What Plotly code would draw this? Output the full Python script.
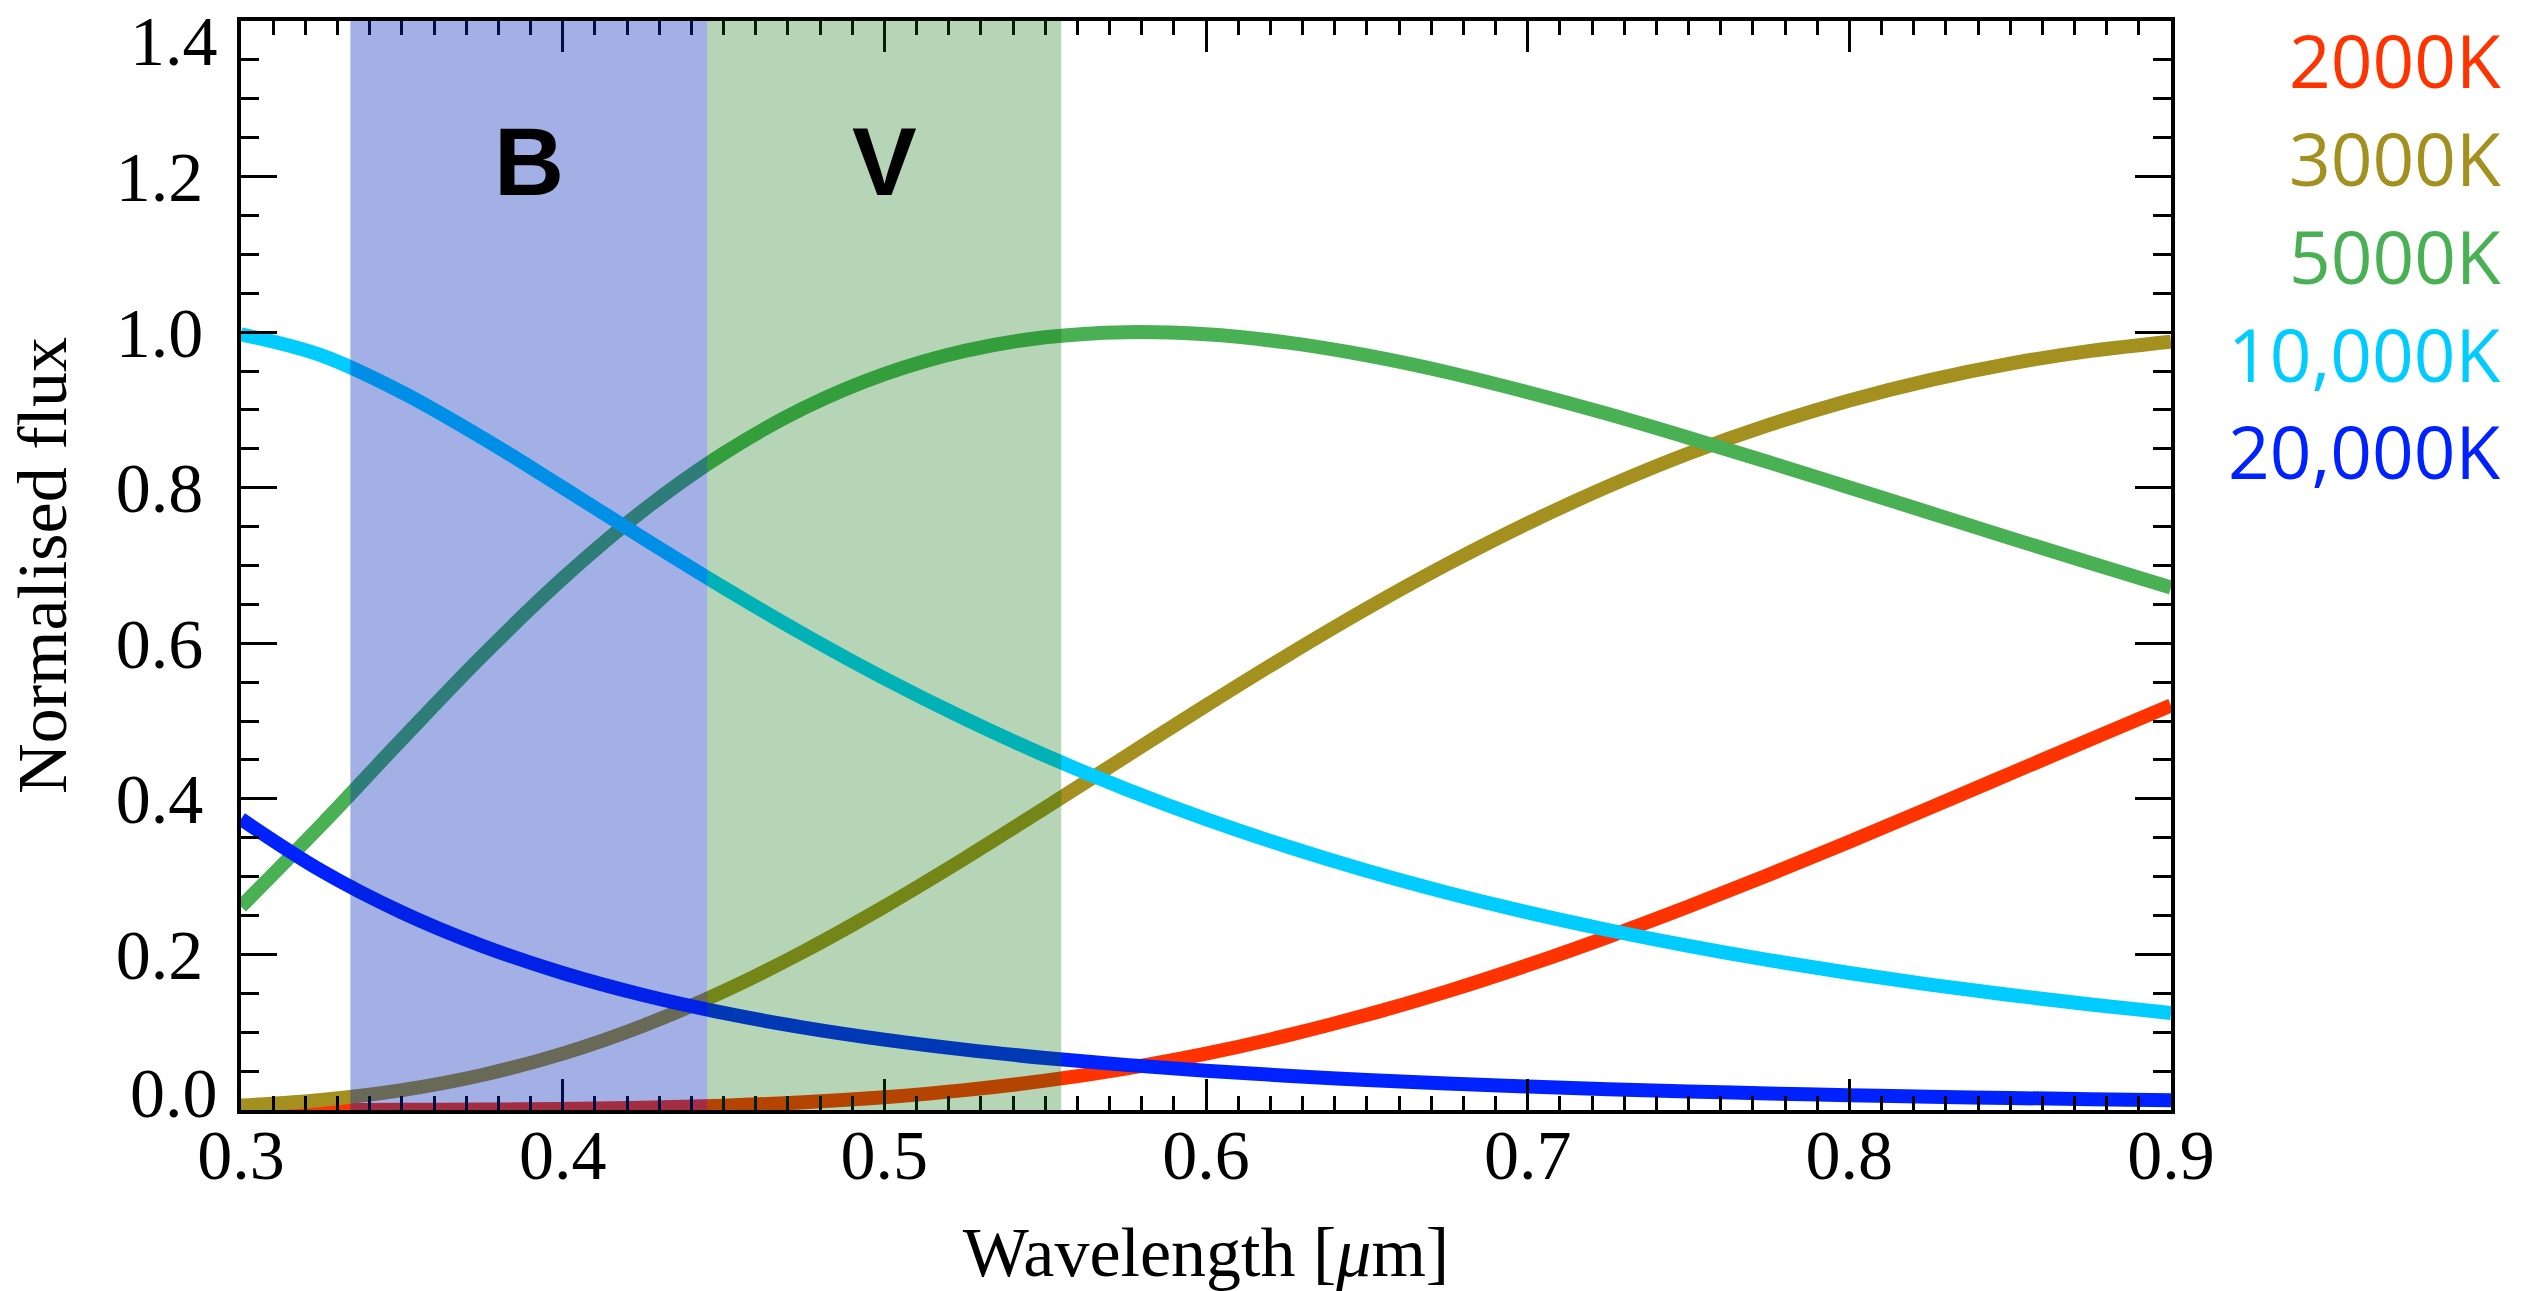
import plotly.graph_objects as go

# Wavelength grid [micron]
wavelength = [0.300, 0.325, 0.350, 0.375, 0.400, 0.425, 0.450, 0.475, 0.500,
              0.525, 0.550, 0.575, 0.600, 0.625, 0.650, 0.675, 0.700, 0.725,
              0.750, 0.775, 0.800, 0.825, 0.850, 0.875, 0.900]

# Normalised flux for each temperature
flux_2000K = [0.0000144, 0.0000611, 0.000205, 0.000571, 0.00137, 0.00292, 0.00562,
              0.00995, 0.0164, 0.0255, 0.0377, 0.0533, 0.0725, 0.0956, 0.1223,
              0.1525, 0.1861, 0.2226, 0.2615, 0.3025, 0.3449, 0.3884, 0.4324,
              0.4764, 0.5200]
flux_3000K = [0.00562, 0.0129, 0.0255, 0.0450, 0.0725, 0.1084, 0.1525, 0.2040,
              0.2615, 0.3235, 0.3884, 0.4544, 0.5200, 0.5838, 0.6447, 0.7017,
              0.7542, 0.8017, 0.8440, 0.8807, 0.9122, 0.9384, 0.9596, 0.9759,
              0.9878]
flux_5000K = [0.2615, 0.3667, 0.4764, 0.5838, 0.6832, 0.7707, 0.8440, 0.9024,
              0.9460, 0.9759, 0.9934, 1.0000, 0.9972, 0.9868, 0.9701, 0.9485,
              0.9228, 0.8947, 0.8643, 0.8327, 0.8003, 0.7678, 0.7352, 0.7032,
              0.6717]
flux_10000K = [0.9972, 0.9701, 0.9228, 0.8643, 0.8003, 0.7352, 0.6717, 0.6113,
               0.5549, 0.5031, 0.4557, 0.4128, 0.3740, 0.3391, 0.3076, 0.2794,
               0.2541, 0.2314, 0.2110, 0.1926, 0.1761, 0.1612, 0.1478, 0.1357,
               0.1248]
flux_20000K = [0.3740, 0.3076, 0.2541, 0.2110, 0.1761, 0.1478, 0.1248, 0.1060,
               0.0905, 0.0776, 0.0669, 0.0580, 0.0505, 0.0441, 0.0387, 0.0341,
               0.0301, 0.0267, 0.0238, 0.0213, 0.0190, 0.0171, 0.0154, 0.0139,
               0.0126]

temperature_labels = ["2000K", "3000K", "5000K", "10,000K", "20,000K"]
series = [flux_2000K, flux_3000K, flux_5000K, flux_10000K, flux_20000K]
colors = ["#FF3300", "#A3901F", "#4AB054", "#00CCFF", "#0022FF"]

# Photometric passbands [micron]
band_names = ["B", "V"]
band_edges = [(0.334, 0.445), (0.445, 0.555)]
band_fill = ["rgba(0,36,186,0.36)", "rgba(0,110,3,0.29)"]

y_ticks = [0.0, 0.2, 0.4, 0.6, 0.8, 1.0, 1.2, 1.4]
x_ticks = [0.3, 0.4, 0.5, 0.6, 0.7, 0.8, 0.9]

serif = "Liberation Serif"
fig = go.Figure()

for name, vals, col in zip(temperature_labels, series, colors):
    fig.add_trace(go.Scatter(
        x=wavelength, y=vals, mode="lines", name=name,
        line=dict(color=col, width=14, shape="spline", smoothing=1.0),
        cliponaxis=False, showlegend=False, hoverinfo="skip"))

for (x0, x1), fc, bn in zip(band_edges, band_fill, band_names):
    fig.add_shape(type="rect", xref="x", yref="y", x0=x0, x1=x1, y0=0, y1=1.4,
                  fillcolor=fc, line_width=0, layer="above")
    fig.add_annotation(x=(x0 + x1) / 2, y=1.22, xref="x", yref="y",
                       text=f"<b>{bn}</b>", showarrow=False,
                       font=dict(family="Liberation Sans", size=97, color="black"))

# Temperature key on the right
key_y = [0.9648, 0.8742, 0.7846, 0.6950, 0.6060]
for name, col, ky in zip(temperature_labels, colors, key_y):
    fig.add_annotation(x=1.172, y=ky, xref="paper", yref="paper",
                       xanchor="right", yanchor="middle", text=name,
                       showarrow=False,
                       font=dict(family="Open Sans", size=73, color=col))

# End tick labels of the y axis sit inside the frame edges
for v, shift in ((y_ticks[0], 17), (y_ticks[-1], -20)):
    fig.add_annotation(x=0, y=v, xref="paper", yref="y", xanchor="right",
                       yanchor="middle", xshift=-21, yshift=shift,
                       text=f"{v:.1f}", showarrow=False,
                       font=dict(family=serif, size=70, color="black"))

axis_common = dict(showline=True, linecolor="black", linewidth=3.5,
                   mirror="allticks", ticks="inside", tickcolor="black",
                   tickwidth=3, showgrid=False, zeroline=False)

fig.update_xaxes(range=[0.3, 0.9], tickvals=x_ticks,
                 ticktext=[f"{v:.1f}" for v in x_ticks], ticklen=31,
                 minor=dict(dtick=0.01, tick0=0.3, ticks="inside", ticklen=14,
                            tickwidth=2.5, tickcolor="black"),
                 tickfont=dict(family=serif, size=70, color="black"),
                 ticklabelstandoff=-19,
                 title=dict(text="Wavelength [<i>\u03bc</i>m]", standoff=36,
                            font=dict(family=serif, size=70, color="black")),
                 **axis_common)
fig.update_yaxes(range=[0, 1.4], tickvals=y_ticks[1:-1],
                 ticktext=[f"{v:.1f}" for v in y_ticks[1:-1]], ticklen=36,
                 minor=dict(dtick=0.05, tick0=0, ticks="inside", ticklen=18,
                            tickwidth=3, tickcolor="black"),
                 tickfont=dict(family=serif, size=70, color="black"),
                 ticklabelstandoff=20,
                 title=dict(text="Normalised flux", standoff=27,
                            font=dict(family=serif, size=70, color="black")),
                 **axis_common)

fig.update_layout(width=2534, height=1291, plot_bgcolor="white",
                  paper_bgcolor="white",
                  margin=dict(l=241, r=363, t=21, b=177))

fig.write_html("out.html")
